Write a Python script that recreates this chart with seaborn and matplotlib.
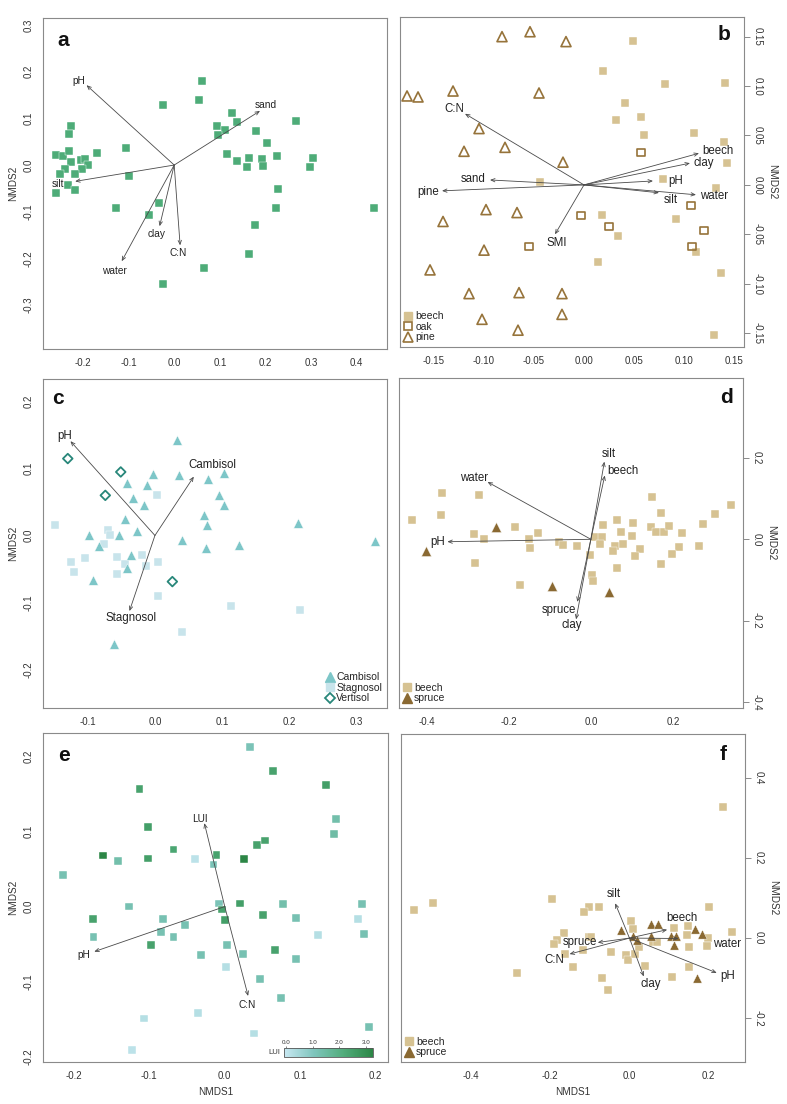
#!/usr/bin/python3

import matplotlib
matplotlib.use("Agg")
import matplotlib.pyplot as plt
from matplotlib.lines import Line2D
from matplotlib.colors import LinearSegmentedColormap, Normalize
from matplotlib.cm import ScalarMappable
import seaborn as sns

# ---------------- panel a : all plots ----------------
a_x = [0.062, 0.055, -0.025, 0.126, 0.137, 0.266, 0.093, 0.112, 0.095, 0.179, 0.204,
       0.116, 0.137, 0.164, 0.193, 0.226, 0.304, 0.160, 0.194, 0.298, 0.227, 0.222,
       0.437, 0.177, 0.163, 0.066, -0.025, -0.034, -0.056, -0.128, -0.099, -0.105, -0.170,
       -0.225, -0.230, -0.260, -0.243, -0.231, -0.225, -0.205, -0.195, -0.189, -0.201,
       -0.239, -0.250, -0.218, -0.233, -0.217, -0.259]
a_y = [0.179, 0.140, 0.129, 0.111, 0.092, 0.094, 0.084, 0.076, 0.065, 0.074, 0.047,
       0.024, 0.009, 0.015, 0.014, 0.020, 0.015, -0.005, -0.001, -0.005, -0.051, -0.092,
       -0.093, -0.129, -0.191, -0.221, -0.254, -0.081, -0.106, -0.092, -0.024, 0.036, 0.026,
       0.083, 0.066, 0.021, 0.019, 0.031, 0.007, 0.011, 0.014, 0.000, -0.009,
       -0.008, -0.020, -0.019, -0.043, -0.053, -0.059]
a_vec = ["pH", "sand", "silt", "water", "clay", "C:N"]
a_vec_x = [-0.192, 0.188, -0.217, -0.115, -0.032, 0.013]
a_vec_y = [0.171, 0.116, -0.035, -0.206, -0.131, -0.172]
a_lab_x = [-0.209, 0.201, -0.255, -0.131, -0.039, 0.008]
a_lab_y = [0.180, 0.129, -0.041, -0.226, -0.148, -0.189]

# ---------------- panel b : beech / oak / pine ----------------
b_beech_x = [0.049, 0.019, 0.081, 0.141, 0.041, 0.057, 0.032, 0.060, 0.110, 0.140, 0.143,
             0.079, 0.132, -0.044, 0.018, 0.092, 0.034, 0.112, 0.014, 0.137, 0.130]
b_beech_y = [0.146, 0.115, 0.102, 0.103, 0.083, 0.069, 0.066, 0.051, 0.053, 0.043, 0.022,
             0.006, -0.003, 0.003, -0.030, -0.034, -0.052, -0.068, -0.078, -0.089, -0.152]
b_oak_x = [0.057, 0.107, -0.003, 0.025, 0.120, 0.108, -0.055]
b_oak_y = [0.033, -0.021, -0.031, -0.042, -0.046, -0.062, -0.062]
b_pine_x = [-0.082, -0.054, -0.018, -0.177, -0.166, -0.131, -0.045, -0.105, -0.079, -0.120,
            -0.021, -0.098, -0.067, -0.141, -0.100, -0.154, -0.115, -0.065, -0.022, -0.022,
            -0.102, -0.066]
b_pine_y = [0.150, 0.155, 0.145, 0.090, 0.089, 0.095, 0.093, 0.057, 0.038, 0.034,
            0.023, -0.025, -0.028, -0.037, -0.066, -0.086, -0.110, -0.109, -0.110, -0.131,
            -0.136, -0.147]
b_vec = ["C:N", "sand", "pine", "SMI", "beech", "clay", "pH", "water", "silt"]
b_vec_x = [-0.119, -0.094, -0.142, -0.029, 0.115, 0.106, 0.069, 0.112, 0.075]
b_vec_y = [0.072, 0.005, -0.006, -0.050, 0.032, 0.022, 0.004, -0.010, -0.008]
b_lab_x = [-0.130, -0.111, -0.156, -0.027, 0.134, 0.120, 0.092, 0.130, 0.087]
b_lab_y = [0.077, 0.006, -0.007, -0.059, 0.034, 0.022, 0.004, -0.011, -0.015]

# ---------------- panel c : soil types ----------------
c_camb_x = [0.033, -0.003, 0.036, 0.079, 0.103, -0.041, -0.012, -0.032, -0.016, 0.096, 0.103,
            0.073, 0.078, -0.044, 0.214, -0.099, -0.053, -0.027, -0.084, 0.040, 0.076, 0.126,
            0.329, -0.035, -0.041, -0.092, -0.061]
c_camb_y = [0.143, 0.092, 0.091, 0.085, 0.094, 0.079, 0.076, 0.056, 0.045, 0.061, 0.045,
            0.031, 0.015, 0.025, 0.019, 0.000, 0.000, 0.006, -0.015, -0.007, -0.018, -0.014,
            -0.009, -0.029, -0.048, -0.066, -0.163]
c_stag_x = [-0.149, 0.003, -0.070, -0.067, -0.076, -0.104, -0.125, -0.120, -0.057, -0.045,
            -0.056, -0.019, -0.014, 0.005, 0.005, 0.113, 0.217, 0.040]
c_stag_y = [0.016, 0.060, 0.008, 0.000, -0.013, -0.034, -0.039, -0.055, -0.032, -0.043,
            -0.057, -0.029, -0.045, -0.040, -0.091, -0.105, -0.112, -0.144]
c_vert_x = [-0.130, -0.051, -0.074, 0.026]
c_vert_y = [0.115, 0.095, 0.060, -0.069]
c_vec = ["pH", "Cambisol", "Stagnosol"]
c_vec_x = [-0.126, 0.058, -0.038]
c_vec_y = [0.141, 0.088, -0.113]
c_lab_x = [-0.135, 0.085, -0.035]
c_lab_y = [0.149, 0.106, -0.123]

# ---------------- panel d : beech / spruce ----------------
d_beech_x = [-0.436, -0.362, -0.365, -0.273, -0.285, -0.260, -0.282, -0.186, -0.128, -0.150,
             -0.148, -0.173, -0.077, -0.069, -0.033, -0.002, 0.002, 0.005, 0.011, 0.028,
             0.030, 0.022, 0.058, 0.053, 0.063, 0.073, 0.079, 0.065, 0.103, 0.101, 0.120,
             0.107, 0.149, 0.172, 0.146, 0.158, 0.178, 0.191, 0.223, 0.215, 0.198, 0.172,
             0.274, 0.265, 0.303, 0.342]
d_beech_y = [0.047, 0.113, 0.060, 0.110, 0.014, 0.000, -0.058, 0.030, 0.016, 0.000,
             -0.022, -0.112, -0.006, -0.013, -0.016, -0.039, -0.088, -0.103, 0.005, 0.005,
             0.036, -0.011, -0.016, -0.028, 0.048, 0.019, -0.011, -0.070, 0.041, 0.008, -0.025,
             -0.042, 0.103, 0.064, 0.030, 0.019, 0.019, 0.032, 0.016, -0.020, -0.037, -0.060,
             0.038, -0.016, 0.063, 0.085]
d_spruce_x = [-0.401, -0.232, -0.095, 0.045]
d_spruce_y = [-0.028, 0.030, -0.116, -0.130]
d_vec = ["silt", "beech", "water", "pH", "spruce", "clay"]
d_vec_x = [0.033, 0.034, -0.252, -0.350, -0.033, -0.036]
d_vec_y = [0.191, 0.157, 0.141, -0.006, -0.154, -0.197]
d_lab_x = [0.043, 0.077, -0.285, -0.374, -0.078, -0.046]
d_lab_y = [0.209, 0.169, 0.151, -0.007, -0.173, -0.212]

# ---------------- panel e : grassland, land-use intensity ----------------
e_x = [0.034, 0.064, 0.134, -0.113, 0.148, 0.145, -0.102, -0.068, -0.161, -0.142,
       -0.102, -0.039, -0.015, -0.011, 0.026, 0.043, 0.053, -0.215, -0.127, -0.008,
       -0.004, 0.000, 0.020, 0.051, 0.077, 0.095, 0.182, 0.177, 0.185, 0.124,
       -0.175, -0.174, -0.082, -0.053, -0.084, -0.068, -0.098, 0.003, 0.024, -0.032,
       0.067, 0.095, 0.002, 0.047, 0.075, -0.107, -0.036, 0.039, -0.123, 0.191]
e_y = [0.212, 0.181, 0.162, 0.157, 0.117, 0.097, 0.106, 0.076, 0.068, 0.061,
       0.064, 0.063, 0.056, 0.069, 0.063, 0.082, 0.088, 0.042, 0.000, 0.004,
       -0.004, -0.018, 0.004, -0.011, 0.003, -0.015, 0.003, -0.016, -0.037, -0.038,
       -0.017, -0.041, -0.016, -0.024, -0.034, -0.041, -0.051, -0.051, -0.063, -0.065,
       -0.058, -0.070, -0.080, -0.097, -0.122, -0.149, -0.142, -0.169, -0.191, -0.160]
e_lui = [1.2, 2.5, 2.6, 2.5, 1.4, 1.5, 2.6, 2.4, 3.3, 1.4,
         2.6, 0.2, 1.2, 2.5, 3.3, 2.5, 2.5, 1.3, 1.3, 1.2,
         2.5, 2.6, 2.6, 2.5, 1.4, 1.3, 1.3, 0.3, 1.3, 0.3,
         2.5, 1.3, 1.3, 1.3, 1.3, 1.3, 2.5, 1.3, 1.3, 1.3,
         2.5, 1.3, 0.3, 1.3, 1.3, 0.3, 0.3, 0.3, 0.2, 1.3]
e_vec = ["LUI", "pH", "C:N"]
e_vec_x = [-0.027, -0.173, 0.031]
e_vec_y = [0.111, -0.060, -0.119]
e_lab_x = [-0.033, -0.187, 0.030]
e_lab_y = [0.117, -0.065, -0.131]

# ---------------- panel f : beech / spruce ----------------
f_beech_x = [0.236, -0.543, -0.495, -0.195, -0.103, -0.078, -0.115, 0.200, 0.003, 0.010,
             0.112, 0.148, -0.165, -0.182, -0.190, -0.103, -0.097, -0.117, -0.162, -0.143,
             -0.283, -0.047, -0.009, -0.003, 0.013, 0.025, 0.039, -0.068, -0.054, 0.059,
             0.070, 0.144, 0.149, 0.198, 0.196, 0.258, 0.151, 0.106]
f_beech_y = [0.327, 0.070, 0.089, 0.099, 0.079, 0.079, 0.064, 0.079, 0.043, 0.022,
             0.026, 0.031, 0.013, -0.004, -0.014, 0.003, 0.003, -0.029, -0.040, -0.073,
             -0.088, -0.036, -0.043, -0.054, -0.039, -0.023, -0.071, -0.099, -0.129, -0.011,
             -0.011, 0.008, -0.023, 0.000, -0.019, 0.016, -0.073, -0.098]
f_spruce_x = [-0.021, 0.055, 0.072, 0.008, 0.020, 0.054, 0.105, 0.118, 0.112, 0.164, 0.183, 0.169]
f_spruce_y = [0.019, 0.036, 0.036, 0.006, -0.004, 0.005, 0.006, 0.006, -0.017, 0.023, 0.011, -0.100]
f_vec = ["silt", "clay", "beech", "water", "pH", "spruce", "C:N"]
f_vec_x = [-0.036, 0.036, 0.095, 0.124, 0.220, -0.080, -0.151]
f_vec_y = [0.087, -0.096, 0.021, -0.001, -0.087, -0.011, -0.040]
f_lab_x = [-0.039, 0.053, 0.132, 0.245, 0.247, -0.126, -0.189]
f_lab_y = [0.110, -0.115, 0.051, -0.015, -0.095, -0.009, -0.054]

GREEN = "#4eac78"
TAN = "#d6c292"
BROWN = "#96733a"
SPRUCE = "#8a6932"
CAMB = "#7dc6c8"
STAG = "#c8e4eb"
VERT = "#28877a"
lui_cmap = LinearSegmentedColormap.from_list(
    "lui", ["#c9e8f2", "#7fc5bd", "#52ad7c", "#2c8646"])

sns.set_theme(style="white")
plt.rcParams["font.family"] = ["Liberation Sans", "DejaVu Sans"]
plt.rcParams["axes.unicode_minus"] = False


def style_axes(ax, xlim, ylim, xticks, yticks, fmt, right=False):
    ax.set_xlim(*xlim)
    ax.set_ylim(*ylim)
    ax.set_xticks(xticks)
    ax.set_yticks(yticks)
    ax.set_xticklabels([fmt % t for t in xticks])
    for s in ax.spines.values():
        s.set_color("#8a8a8a")
        s.set_linewidth(0.8)
    ax.tick_params(direction="out", length=4, width=0.7, color="#8a8a8a",
                   labelcolor="#333333", labelsize=7, pad=2.5)
    if right:
        ax.yaxis.tick_right()
        ax.yaxis.set_label_position("right")
        ax.set_yticklabels([fmt % t for t in yticks], rotation=270, va="center")
        ax.set_ylabel("NMDS2", rotation=270, size=7.2, color="#333333", labelpad=10)
    else:
        ax.set_yticklabels([fmt % t for t in yticks], rotation=90, va="center")
        ax.set_ylabel("NMDS2", size=7.2, color="#333333", labelpad=4)
    ax.set_xlabel("")


def draw_vectors(ax, names, tx, ty, lx, ly, size):
    for n, x1, y1, x2, y2 in zip(names, tx, ty, lx, ly):
        ax.annotate("", xy=(x1, y1), xytext=(0, 0),
                    arrowprops=dict(arrowstyle="->,head_length=0.4,head_width=0.17",
                                    color="#4a4a4a", lw=0.6, shrinkA=0, shrinkB=0,
                                    mutation_scale=7))
        ax.text(x2, y2, n, ha="center", va="center", fontsize=size, color="#222222")


def panel_letter(ax, letter, x, y):
    ax.text(x, y, letter, transform=ax.transAxes, ha="center", va="center",
            fontsize=15, fontweight="bold", color="#111111")


def legend(ax, handles, labels, loc):
    ax.legend(handles, labels, loc=loc, frameon=False, fontsize=7.5,
              handlelength=0.7, handletextpad=0.3, labelspacing=0.05,
              borderaxespad=0.25, borderpad=0.2)


fig = plt.figure(figsize=(7.87, 11.04), dpi=100)

# ---- a
ax = fig.add_axes([0.0546, 0.6839, 0.437, 0.2998])
sns.scatterplot(x=a_x, y=a_y, ax=ax, marker="s", s=32, color=GREEN,
                edgecolor="white", linewidth=0.3)
style_axes(ax, (-0.2875, 0.466), (-0.394, 0.315),
           [-0.2, -0.1, 0.0, 0.1, 0.2, 0.3, 0.4], [-0.3, -0.2, -0.1, 0.0, 0.1, 0.2, 0.3], "%.1f")
draw_vectors(ax, a_vec, a_vec_x, a_vec_y, a_lab_x, a_lab_y, 7.3)
panel_letter(ax, "a", 0.058, 0.933)

# ---- b
ax = fig.add_axes([0.5083, 0.6857, 0.437, 0.299])
sns.scatterplot(x=b_beech_x, y=b_beech_y, ax=ax, marker="s", s=30, color=TAN,
                edgecolor="white", linewidth=0.3)
sns.scatterplot(x=b_oak_x, y=b_oak_y, ax=ax, marker="s", s=28, facecolors="none",
                edgecolor=BROWN, linewidth=1.2)
sns.scatterplot(x=b_pine_x, y=b_pine_y, ax=ax, marker="^", s=52, facecolors="none",
                edgecolor=BROWN, linewidth=1.2)
b_ticks = [-0.15, -0.10, -0.05, 0.00, 0.05, 0.10, 0.15]
style_axes(ax, (-0.184, 0.16), (-0.164, 0.170), b_ticks, b_ticks, "%.2f", right=True)
draw_vectors(ax, b_vec, b_vec_x, b_vec_y, b_lab_x, b_lab_y, 8.3)
panel_letter(ax, "b", 0.942, 0.948)
legend(ax, [Line2D([], [], ls="", marker="s", ms=5.5, mfc=TAN, mec=TAN),
            Line2D([], [], ls="", marker="s", ms=6, mfc="none", mec=BROWN, mew=1.2),
            Line2D([], [], ls="", marker="^", ms=7, mfc="none", mec=BROWN, mew=1.2)],
       ["beech", "oak", "pine"], "lower left")

# ---- c
ax = fig.add_axes([0.0546, 0.3587, 0.437, 0.298])
sns.scatterplot(x=c_stag_x, y=c_stag_y, ax=ax, marker="s", s=28, color=STAG,
                edgecolor="white", linewidth=0.3)
sns.scatterplot(x=c_camb_x, y=c_camb_y, ax=ax, marker="^", s=48, color=CAMB,
                edgecolor="white", linewidth=0.3)
sns.scatterplot(x=c_vert_x, y=c_vert_y, ax=ax, marker="D", s=24, facecolors="none",
                edgecolor=VERT, linewidth=1.3)
style_axes(ax, (-0.167, 0.346), (-0.258, 0.234),
           [-0.1, 0.0, 0.1, 0.2, 0.3], [-0.2, -0.1, 0.0, 0.1, 0.2], "%.1f")
draw_vectors(ax, c_vec, c_vec_x, c_vec_y, c_lab_x, c_lab_y, 8.3)
panel_letter(ax, "c", 0.044, 0.942)
legend(ax, [Line2D([], [], ls="", marker="^", ms=7, mfc=CAMB, mec=CAMB),
            Line2D([], [], ls="", marker="s", ms=5.5, mfc=STAG, mec=STAG),
            Line2D([], [], ls="", marker="D", ms=5, mfc="none", mec=VERT, mew=1.3)],
       ["Cambisol", "Stagnosol", "Vertisol"], "lower right")

# ---- d
ax = fig.add_axes([0.507, 0.3587, 0.437, 0.299])
sns.scatterplot(x=d_beech_x, y=d_beech_y, ax=ax, marker="s", s=32, color=TAN,
                edgecolor="white", linewidth=0.3)
sns.scatterplot(x=d_spruce_x, y=d_spruce_y, ax=ax, marker="^", s=52, color=SPRUCE,
                edgecolor="white", linewidth=0.3)
style_axes(ax, (-0.468, 0.371), (-0.415, 0.397),
           [-0.4, -0.2, 0.0, 0.2], [-0.4, -0.2, 0.0, 0.2], "%.1f", right=True)
draw_vectors(ax, d_vec, d_vec_x, d_vec_y, d_lab_x, d_lab_y, 8.3)
panel_letter(ax, "d", 0.953, 0.942)
legend(ax, [Line2D([], [], ls="", marker="s", ms=5.5, mfc=TAN, mec=TAN),
            Line2D([], [], ls="", marker="^", ms=7, mfc=SPRUCE, mec=SPRUCE)],
       ["beech", "spruce"], "lower left")

# ---- e
ax = fig.add_axes([0.0546, 0.038, 0.438, 0.298])
sns.scatterplot(x=e_x, y=e_y, hue=e_lui, palette=lui_cmap, hue_norm=(0, 3.3), ax=ax,
                marker="s", s=32, edgecolor="white", linewidth=0.3, legend=False)
style_axes(ax, (-0.241, 0.216), (-0.207, 0.231),
           [-0.2, -0.1, 0.0, 0.1, 0.2], [-0.2, -0.1, 0.0, 0.1, 0.2], "%.1f")
ax.set_xlabel("NMDS1", size=7.2, color="#333333", labelpad=4)
draw_vectors(ax, e_vec, e_vec_x, e_vec_y, e_lab_x, e_lab_y, 7.3)
panel_letter(ax, "e", 0.061, 0.933)
cax = ax.inset_axes([0.699, 0.016, 0.258, 0.027])
cb = fig.colorbar(ScalarMappable(norm=Normalize(-0.09, 3.27), cmap=lui_cmap),
                  cax=cax, orientation="horizontal")
cb.set_ticks([0, 1, 2, 3])
cb.set_ticklabels(["0.0", "1.0", "2.0", "3.0"])
cax.xaxis.set_ticks_position("top")
cax.tick_params(length=1.5, width=0.5, labelsize=4.5, pad=0.5, color="#555555",
                labelcolor="#333333")
cb.outline.set_edgecolor("#555555")
cb.outline.set_linewidth(0.6)
cax.text(-0.04, 0.5, "LUI", transform=cax.transAxes, ha="right", va="center",
         fontsize=5.5, color="#333333")

# ---- f
ax = fig.add_axes([0.5095, 0.038, 0.437, 0.297])
sns.scatterplot(x=f_beech_x, y=f_beech_y, ax=ax, marker="s", s=32, color=TAN,
                edgecolor="white", linewidth=0.3)
sns.scatterplot(x=f_spruce_x, y=f_spruce_y, ax=ax, marker="^", s=44, color=SPRUCE,
                edgecolor="white", linewidth=0.3)
style_axes(ax, (-0.576, 0.291), (-0.31, 0.51),
           [-0.4, -0.2, 0.0, 0.2], [-0.2, 0.0, 0.2, 0.4], "%.1f", right=True)
ax.set_xlabel("NMDS1", size=7.2, color="#333333", labelpad=4)
draw_vectors(ax, f_vec, f_vec_x, f_vec_y, f_lab_x, f_lab_y, 8.3)
panel_letter(ax, "f", 0.936, 0.939)
legend(ax, [Line2D([], [], ls="", marker="s", ms=5.5, mfc=TAN, mec=TAN),
            Line2D([], [], ls="", marker="^", ms=7, mfc=SPRUCE, mec=SPRUCE)],
       ["beech", "spruce"], "lower left")

fig.savefig("out.png", dpi=100, facecolor="white")
